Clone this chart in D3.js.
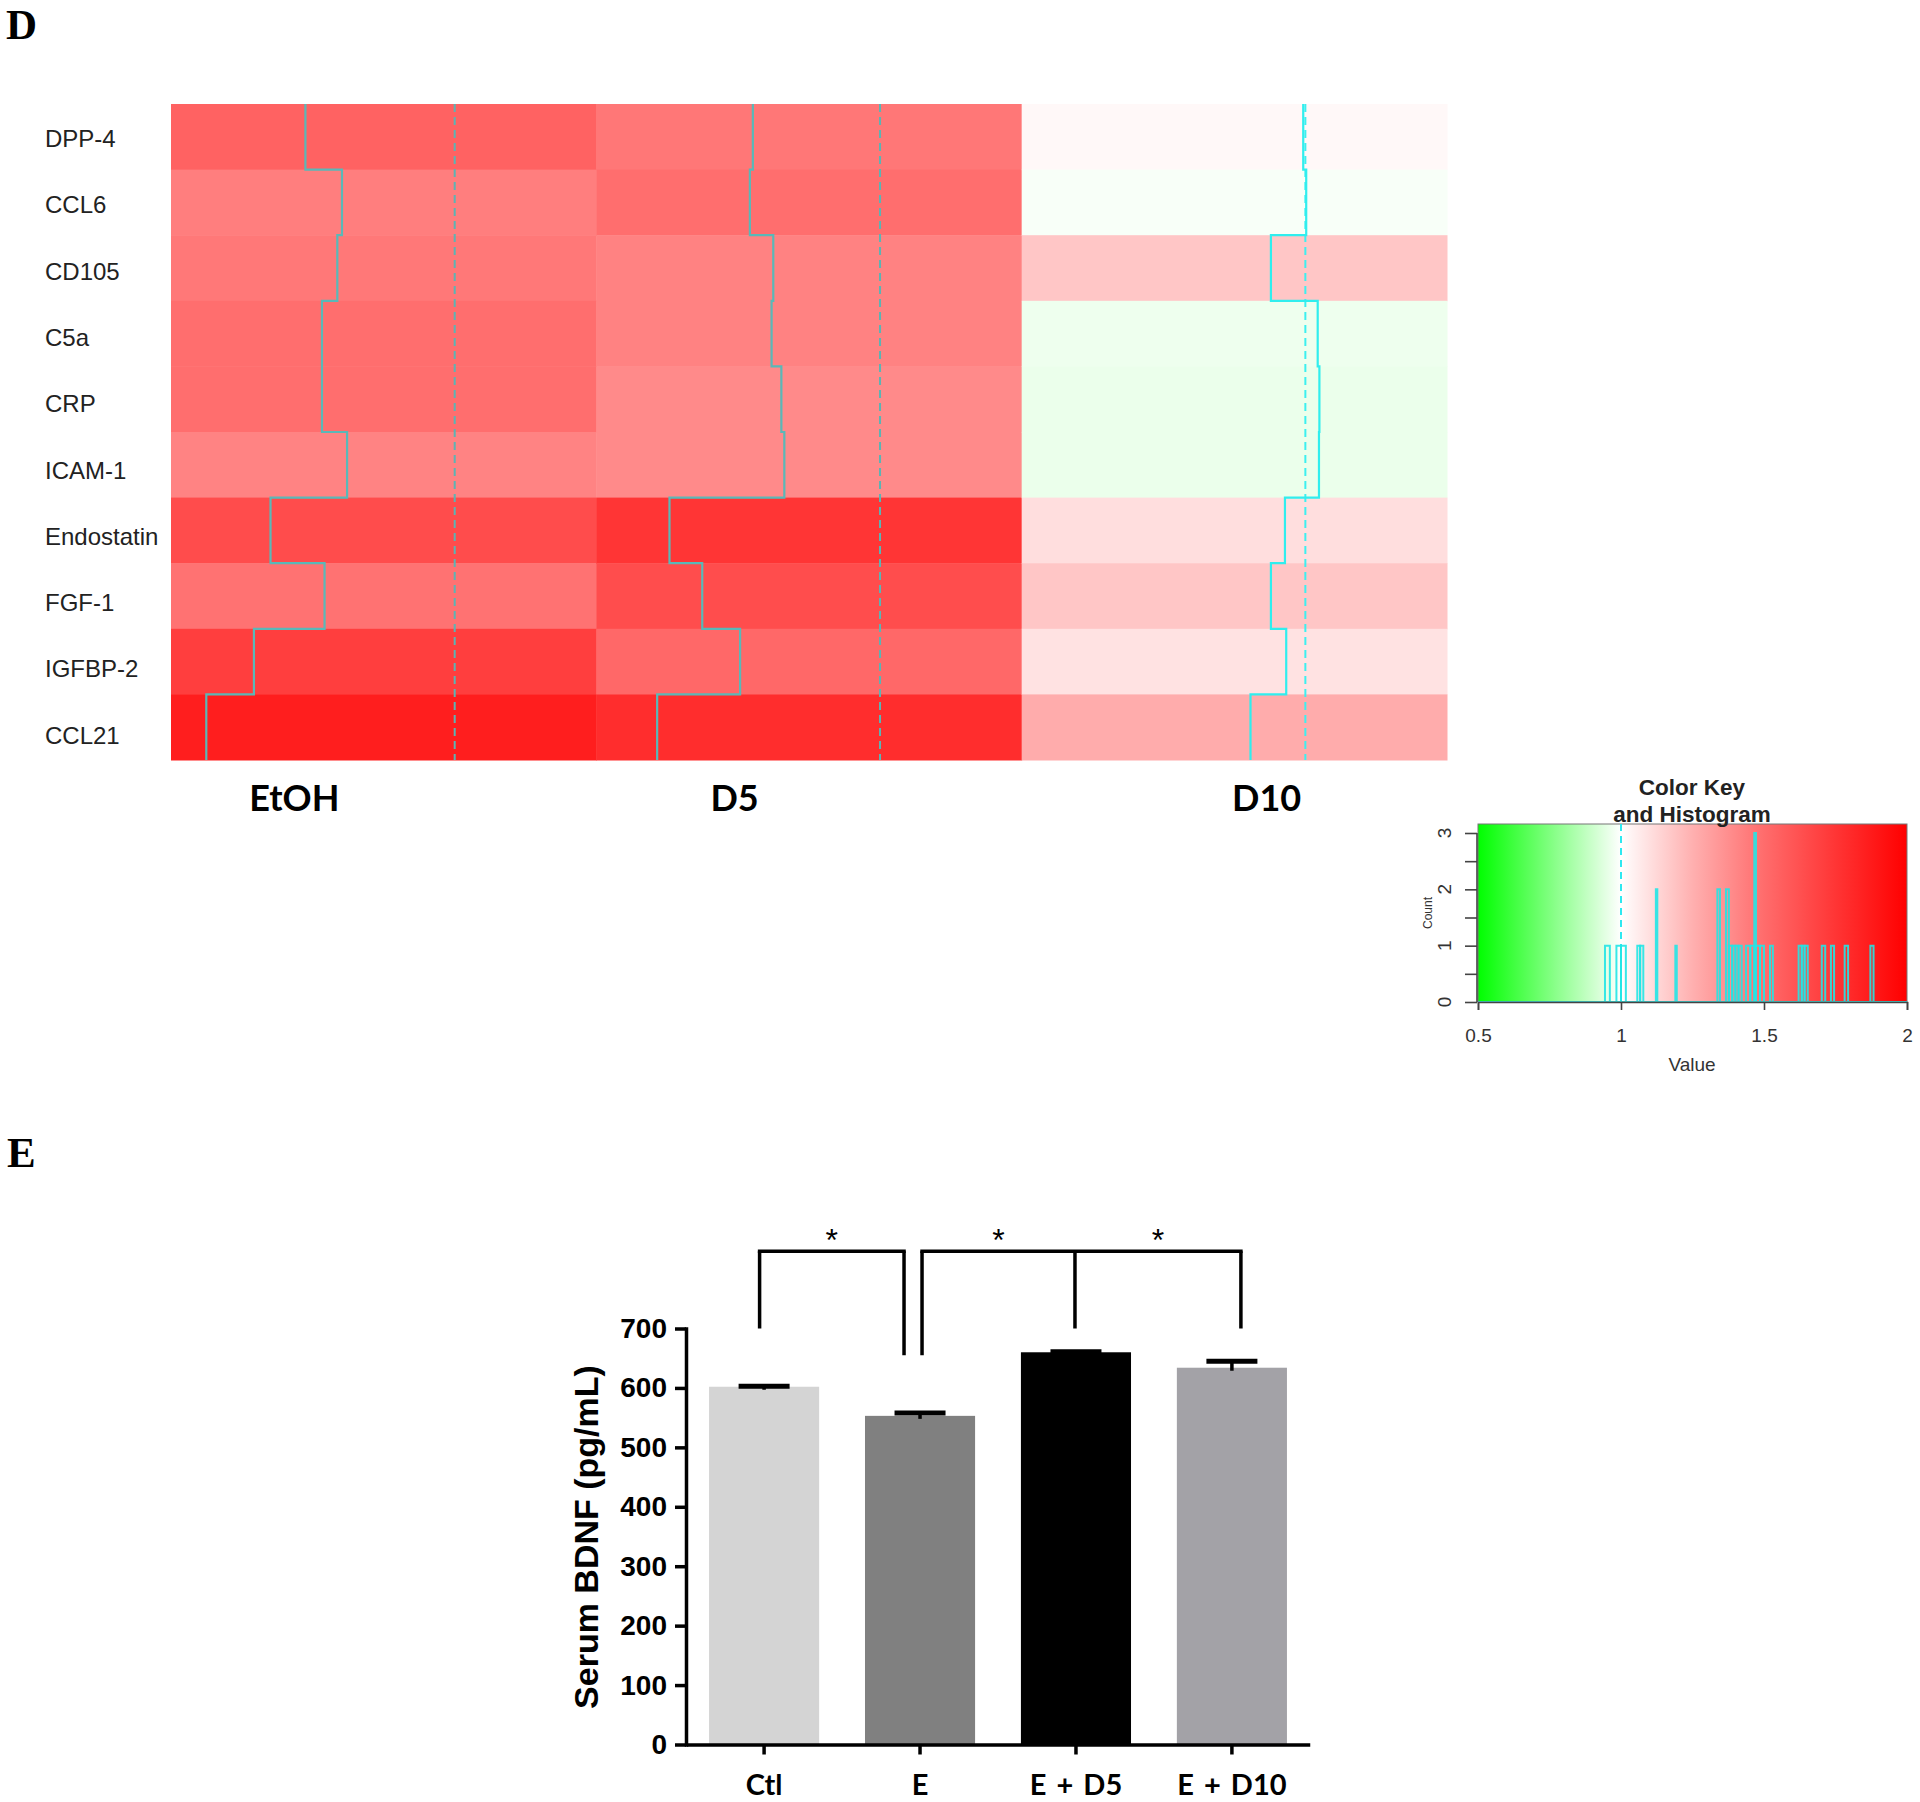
<!DOCTYPE html>
<html>
<head>
<meta charset="utf-8">
<script src="https://cdn.jsdelivr.net/npm/d3@7"></script>
<style>
  body { margin: 0; background: #fff; }
  svg { display: block; }
</style>
</head>
<body>
<svg id="chart" width="1920" height="1802"></svg>
<script>
// ---------------- DATA ----------------
const genes = ["DPP-4", "CCL6", "CD105", "C5a", "CRP", "ICAM-1", "Endostatin", "FGF-1", "IGFBP-2", "CCL21"];
const conditions = ["EtOH", "D5", "D10"];
// fold-change values
const valuesEtOH = [1.545, 1.434, 1.456, 1.493, 1.493, 1.415, 1.645, 1.478, 1.709, 1.858];
const valuesD5   = [1.46, 1.493, 1.419, 1.419, 1.39, 1.39, 1.75, 1.641, 1.518, 1.788];
const valuesD10  = [1.022, 0.986, 1.18, 0.967, 0.961, 0.961, 1.104, 1.18, 1.092, 1.265];
// trace line positions (fraction of the cell width)
const traceEtOH = [0.316, 0.402, 0.391, 0.355, 0.355, 0.414, 0.234, 0.361, 0.195, 0.083];
const traceD5   = [0.368, 0.361, 0.416, 0.412, 0.435, 0.442, 0.172, 0.249, 0.338, 0.143];
const traceD10  = [0.662, 0.669, 0.586, 0.696, 0.700, 0.699, 0.619, 0.586, 0.622, 0.538];
const traceRef = 0.667;

// colour key
const keyStops = [0.5, 1, 1.25, 1.5, 1.75, 2];
const keyColors = ["#00ff00", "#ffffff", "#ffb0b0", "#ff6c6c", "#ff3535", "#ff0000"];
const keyTicks = [0.5, 1, 1.5, 2];
const countTicks = [0, 1, 2, 3];
const countMinorTicks = [0, 0.5, 1, 1.5, 2, 2.5, 3];
// histogram bins: [start, end, count]
const histBins = [
  [0.944, 0.961, 1], [0.984, 1.0, 1], [1.0, 1.017, 1], [1.057, 1.067, 1], [1.067, 1.078, 1],
  [1.122, 1.127, 2], [1.19, 1.195, 1], [1.337, 1.346, 2], [1.367, 1.377, 2],
  [1.377, 1.389, 1], [1.389, 1.400, 1], [1.400, 1.411, 1], [1.411, 1.422, 1],
  [1.437, 1.452, 1], [1.452, 1.466, 1], [1.466, 1.472, 3], [1.472, 1.486, 1], [1.486, 1.5, 1],
  [1.521, 1.531, 1], [1.621, 1.632, 1], [1.632, 1.642, 1], [1.642, 1.653, 1],
  [1.702, 1.714, 1], [1.734, 1.745, 1], [1.782, 1.794, 1], [1.872, 1.883, 1]
];

// bar chart
const groups = ["Ctl", "E", "E + D5", "E + D10"];
const bdnfMean = [602, 553, 660, 634];
const bdnfSem = [1, 5, 1, 11];
const bdnfColors = ["#d4d4d4", "#808080", "#000000", "#a3a2a7"];
const bdnfTicks = [0, 100, 200, 300, 400, 500, 600, 700];
// significance brackets: legs [group, value], top value
const brackets = [
  { legs: [["Ctl", 700], ["E", 655]], top: 830, label: "*" },
  { legs: [["E", 655], ["E + D5", 700], ["E + D10", 700]], top: 830, label: "*" }
];

// ---------------- DRAW ----------------
const svg = d3.select("#chart");
const SANS = "'Liberation Sans', Arial, sans-serif";
const SERIF = "'Liberation Serif', 'Times New Roman', serif";
const CAL = "Lato, 'Open Sans', sans-serif";

// panel letters
svg.append("text").attr("x", 6).attr("y", 39).text("D")
  .style("font-family", SERIF).style("font-weight", "bold").style("font-size", "43px");
svg.append("text").attr("x", 7).attr("y", 1167).text("E")
  .style("font-family", SERIF).style("font-weight", "bold").style("font-size", "43px");

// ---- heatmap ----
const xCol = d3.scaleBand().domain(conditions).range([171, 1447]);
const yRow = d3.scaleBand().domain(genes).range([104, 760]);
const color = d3.scaleLinear().domain(keyStops).range(keyColors).clamp(true);
const heat = { EtOH: valuesEtOH, D5: valuesD5, D10: valuesD10 };
const traces = { EtOH: traceEtOH, D5: traceD5, D10: traceD10 };
const tx = d3.scaleLinear().domain([0, 1]).range([0, xCol.bandwidth()]);

const hm = svg.append("g");
conditions.forEach(c => {
  hm.selectAll(null).data(genes).enter().append("rect")
    .attr("x", xCol(c)).attr("y", g => yRow(g))
    .attr("width", xCol.bandwidth() + 0.5).attr("height", yRow.bandwidth() + 0.5)
    .attr("fill", (g, i) => color(heat[c][i]));
});
conditions.forEach(c => {
  const light = c === "D10";
  // reference dashed line
  hm.append("line")
    .attr("x1", xCol(c) + tx(traceRef)).attr("x2", xCol(c) + tx(traceRef))
    .attr("y1", yRow.range()[0]).attr("y2", yRow.range()[1])
    .attr("stroke", light ? "#3cf0f0" : "#5cb4b4").attr("stroke-width", 2)
    .attr("stroke-dasharray", "8,5");
  const pts = [];
  genes.forEach((g, i) => {
    const x = xCol(c) + tx(traces[c][i]);
    pts.push([x, yRow(g)], [x, yRow(g) + yRow.bandwidth()]);
  });
  hm.append("path").attr("d", d3.line()(pts))
    .attr("fill", "none")
    .attr("stroke", light ? "#30eeee" : "#5ab8b8")
    .attr("stroke-width", 2.2);
});

// row labels
const yLab = d3.scalePoint().domain(genes).range([138.5, 735]);
svg.selectAll(".rowlab").data(genes).enter().append("text")
  .attr("x", 45).attr("y", g => yLab(g)).attr("dy", "0.36em")
  .text(g => g)
  .style("font-family", SANS).style("font-size", "24px").style("fill", "#222");

// column labels
const colLabelFrac = { EtOH: 0.29, D5: 0.325, D10: 0.576 };
svg.selectAll(".collab").data(conditions).enter().append("text")
  .attr("x", c => xCol(c) + colLabelFrac[c] * xCol.bandwidth()).attr("y", 811)
  .attr("text-anchor", "middle").text(c => c)
  .style("font-family", CAL).style("font-weight", "bold").style("font-size", "36px").style("fill", "#000");

// ---- colour key ----
const kx = d3.scaleLinear().domain([0.5, 2]).range([1478, 1907]);
const ky = d3.scaleLinear().domain([0, 3]).range([1002, 833]);
const defs = svg.append("defs");
const grad = defs.append("linearGradient").attr("id", "keygrad").attr("x1", "0%").attr("x2", "100%");
keyStops.forEach((s, i) => {
  grad.append("stop").attr("offset", ((s - 0.5) / 1.5 * 100) + "%").attr("stop-color", keyColors[i]);
});
const key = svg.append("g");
key.append("rect").attr("x", kx(0.5)).attr("y", 824).attr("width", kx(2) - kx(0.5)).attr("height", ky(0) - 824)
  .attr("fill", "url(#keygrad)").attr("stroke", "#777").attr("stroke-width", 1);
// dashed line at 1
key.append("line").attr("x1", kx(1)).attr("x2", kx(1)).attr("y1", 824).attr("y2", ky(0))
  .attr("stroke", "#2ee8f0").attr("stroke-width", 2).attr("stroke-dasharray", "7,5");
// histogram
key.selectAll(".hb").data(histBins).enter().append("path")
  .attr("d", d => `M${kx(d[0])},${ky(0)}V${ky(d[2])}H${kx(d[1])}V${ky(0)}`)
  .attr("fill", "none").attr("stroke", "#22e6e6").attr("stroke-width", 2).attr("stroke-opacity", 0.9);
key.append("line").attr("x1", kx(0.5)).attr("x2", kx(2)).attr("y1", ky(0)).attr("y2", ky(0))
  .attr("stroke", "#3cc8c8").attr("stroke-width", 2);
// axes
const kxAxis = key.append("g").attr("transform", `translate(0,${ky(0)})`)
  .call(d3.axisBottom(kx).tickValues(keyTicks).tickSize(8).tickPadding(19).tickFormat(d3.format("")));
kxAxis.selectAll("path,line").attr("stroke", "#444").attr("stroke-width", 1.6);
kxAxis.selectAll("text").style("font-family", SANS).style("font-size", "19px").style("fill", "#333");
const kyAxis = key.append("g").attr("transform", `translate(${kx(0.5) - 1},0)`)
  .call(d3.axisLeft(ky).tickValues(countMinorTicks).tickSize(12).tickSizeOuter(0).tickFormat(""));
kyAxis.select(".domain").attr("d", `M0,${ky(0)}V${ky(3)}`);
kyAxis.selectAll("path,line").attr("stroke", "#444").attr("stroke-width", 1.6);
key.selectAll(".cl").data(countTicks).enter().append("text")
  .attr("transform", d => `translate(1451,${ky(d)}) rotate(-90)`)
  .attr("text-anchor", "middle").text(d => d)
  .style("font-family", SANS).style("font-size", "19px").style("fill", "#333");
key.append("text").attr("transform", "translate(1432,913) rotate(-90)").attr("text-anchor", "middle")
  .text("Count").style("font-family", SANS).style("font-size", "12px").style("fill", "#333");
key.append("text").attr("x", 1692).attr("y", 1071).attr("text-anchor", "middle").text("Value")
  .style("font-family", SANS).style("font-size", "19px").style("fill", "#333");
key.append("text").attr("x", 1692).attr("y", 795).attr("text-anchor", "middle").text("Color Key")
  .style("font-family", SANS).style("font-weight", "bold").style("font-size", "22.5px").style("fill", "#222");
key.append("text").attr("x", 1692).attr("y", 822).attr("text-anchor", "middle").text("and Histogram")
  .style("font-family", SANS).style("font-weight", "bold").style("font-size", "22.5px").style("fill", "#222");

// ---- bar chart ----
const xB = d3.scaleBand().domain(groups).range([688, 1308]).paddingInner(0.294).paddingOuter(0.135);
const yB = d3.scaleLinear().domain([0, 700]).range([1744.5, 1328.5]);
const bc = svg.append("g");
bc.selectAll(".bar").data(groups).enter().append("rect")
  .attr("x", g => xB(g)).attr("width", xB.bandwidth())
  .attr("y", (g, i) => yB(bdnfMean[i])).attr("height", (g, i) => yB(0) - yB(bdnfMean[i]))
  .attr("fill", (g, i) => bdnfColors[i]);
// error bars
groups.forEach((g, i) => {
  const cx = xB(g) + xB.bandwidth() / 2;
  bc.append("line").attr("x1", cx).attr("x2", cx)
    .attr("y1", yB(bdnfMean[i]) + 3).attr("y2", yB(bdnfMean[i] + bdnfSem[i]))
    .attr("stroke", "#000").attr("stroke-width", 3.5);
  bc.append("line").attr("x1", cx - 25.5).attr("x2", cx + 25.5)
    .attr("y1", yB(bdnfMean[i] + bdnfSem[i])).attr("y2", yB(bdnfMean[i] + bdnfSem[i]))
    .attr("stroke", "#000").attr("stroke-width", 5);
});
// axes
const yAx = bc.append("g").attr("transform", "translate(686,0)")
  .call(d3.axisLeft(yB).tickValues(bdnfTicks).tickSize(11).tickSizeOuter(0).tickPadding(8));
yAx.selectAll("path,line").attr("stroke", "#000").attr("stroke-width", 3.5);
yAx.select(".domain").attr("stroke-linecap", "square");
yAx.selectAll("text").style("font-family", SANS).style("font-weight", "bold").style("font-size", "28px").style("fill", "#000");
const xAx = bc.append("g").attr("transform", `translate(0,${yB(0)})`)
  .call(d3.axisBottom(xB).tickSize(10).tickSizeOuter(0).tickPadding(20));
xAx.selectAll("path,line").attr("stroke", "#000").attr("stroke-width", 3.5);
xAx.select(".domain").attr("stroke-linecap", "square");
xAx.selectAll("text").style("font-family", CAL).style("font-weight", "bold").style("font-size", "29px")
  .style("fill", "#000").style("word-spacing", "3px");
// axis title
bc.append("text").attr("transform", "translate(598,1537) rotate(-90)").attr("text-anchor", "middle")
  .text("Serum BDNF (pg/mL)")
  .style("font-family", SANS).style("font-weight", "bold").style("font-size", "34px").style("fill", "#000");

// significance brackets
const legOffset = { "0-Ctl": -4.5, "0-E": -16, "1-E": 2, "1-E + D5": -1, "1-E + D10": 9 };
brackets.forEach((b, bi) => {
  const xs = b.legs.map(l => xB(l[0]) + xB.bandwidth() / 2 + legOffset[bi + "-" + l[0]]);
  const yTop = yB(b.top);
  bc.append("line").attr("x1", xs[0]).attr("x2", xs[xs.length - 1]).attr("y1", yTop).attr("y2", yTop)
    .attr("stroke", "#000").attr("stroke-width", 3.5).attr("stroke-linecap", "square");
  b.legs.forEach((l, li) => {
    bc.append("line").attr("x1", xs[li]).attr("x2", xs[li]).attr("y1", yTop).attr("y2", yB(l[1]))
      .attr("stroke", "#000").attr("stroke-width", 3.5);
  });
  for (let k = 0; k < xs.length - 1; k++) {
    bc.append("text").attr("x", (xs[k] + xs[k + 1]) / 2).attr("y", yTop).attr("text-anchor", "middle")
      .text(b.label).style("font-family", SANS).style("font-size", "32px").style("fill", "#000");
  }
});
</script>
</body>
</html>
